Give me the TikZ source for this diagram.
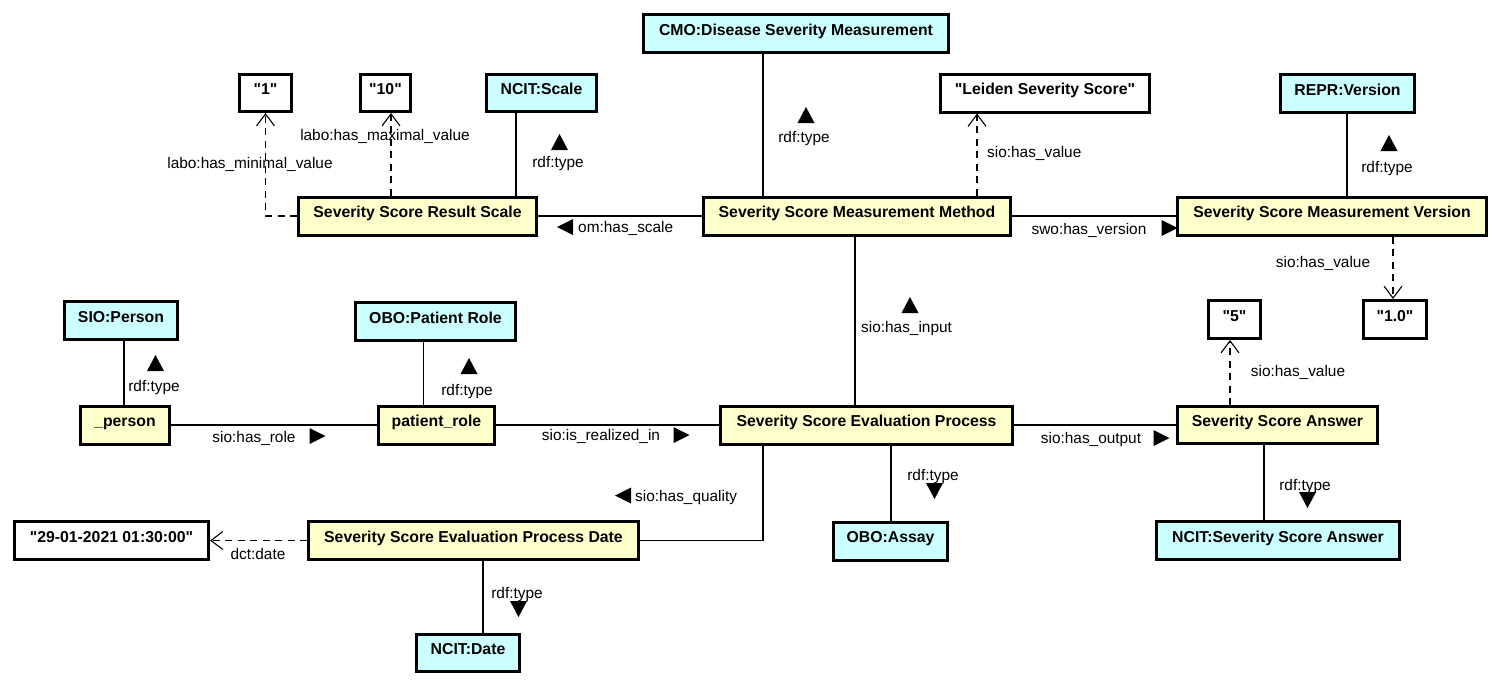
\documentclass[tikz,border=0pt]{standalone}
\usepackage{fontspec}
\setmainfont{Liberation Sans}[Ligatures=TeXOff]
\usetikzlibrary{arrows.meta}
\definecolor{clsfill}{HTML}{CCFFFF}
\definecolor{insfill}{HTML}{FFFFCC}
\newcommand\dq{\char34\relax}
\tikzset{
  box/.style={draw=black, line width=3pt, inner sep=0pt, minimum height=38pt,
    font=\fontsize{15.8}{18}\selectfont\bfseries, text height=11pt, text depth=7.5pt},
  cls/.style={box, fill=clsfill},
  ins/.style={box, fill=insfill},
  lit/.style={box, fill=white},
  lbl/.style={inner sep=0pt, font=\fontsize{15.4}{18}\selectfont, text height=11pt, text depth=3pt},
  conn/.style={draw=black, line width=1.1pt},
  valarrow/.style={conn, dash pattern=on 7pt off 5.5pt,
    -{Straight Barb[length=12pt,width=18pt,line width=1.1pt]}},
  tri up/.pic={\fill (-8.5,8) -- (8.5,8) -- (0,-8) -- cycle;},
  tri down/.pic={\fill (-8.5,-8) -- (8.5,-8) -- (0,8) -- cycle;},
  tri left/.pic={\fill (8,-8) -- (8,8) -- (-8,0) -- cycle;},
  tri right/.pic={\fill (-8,-8) -- (-8,8) -- (8,0) -- cycle;},
}
\begin{document}
\begin{tikzpicture}[x=1pt,y=-1pt]
\fill[white] (0,0) rectangle (1500,686);
\useasboundingbox (0,0) rectangle (1500,686);

% top row
\node[cls, minimum width=305pt] (cmo) at (796,33.5) {CMO:Disease Severity Measurement};
\node[lit, minimum width=52pt, minimum height=37pt] (one) at (265.5,93) {\dq1\dq};
\node[lit, minimum width=50pt, minimum height=37pt] (ten) at (385.5,93) {\dq10\dq};
\node[cls, minimum width=110pt, minimum height=37pt] (ncitscale) at (541.5,93) {NCIT:Scale};
\node[lit, minimum width=209pt] (leiden) at (1045,93) {\dq Leiden Severity Score\dq};
\node[cls, minimum width=134pt] (repr) at (1347.5,93.5) {REPR:Version};

% second row
\node[ins, minimum width=238pt] (resultscale) at (417.5,216) {Severity Score Result Scale};
\node[ins, minimum width=307pt] (method) at (857,216) {Severity Score Measurement Method};
\node[ins, minimum width=309pt] (version) at (1332,216) {Severity Score Measurement Version};

% third row
\node[cls, minimum width=113pt] (sioperson) at (121,320.5) {SIO:Person};
\node[cls, minimum width=160pt] (oborole) at (435.5,321.5) {OBO:Patient Role};
\node[lit, minimum width=52pt] (five) at (1234.5,319.5) {\dq5\dq};
\node[lit, minimum width=63pt] (onezero) at (1395,319.5) {\dq1.0\dq};

% fourth row
\node[ins, minimum width=89pt] (person) at (125,425) {\_person};
\node[ins, minimum width=116pt] (prole) at (436.5,425) {patient\_role};
\node[ins, minimum width=292pt] (evalproc) at (866.5,425) {Severity Score Evaluation Process};
\node[ins, minimum width=200pt, minimum height=37pt] (answer) at (1277.5,425) {Severity Score Answer};

% fifth row
\node[lit, minimum width=194pt] (datelit) at (111.5,540.5) {\dq29-01-2021 01:30:00\dq};
\node[ins, minimum width=330pt] (datebox) at (473.5,540.5) {Severity Score Evaluation Process Date};
\node[cls, minimum width=114pt] (assay) at (890.5,541) {OBO:Assay};
\node[cls, minimum width=243pt] (ncitanswer) at (1278,540.5) {NCIT:Severity Score Answer};

% sixth row
\node[cls, minimum width=103pt, minimum height=37pt] (ncitdate) at (468,653) {NCIT:Date};

% connectors
\draw[valarrow] (resultscale.west) -| (one.south);
\draw[valarrow] (391,0 |- resultscale.north) -- (391,0 |- ten.south);
\draw[conn] (516,0 |- ncitscale.south) -- (516,0 |- resultscale.north);
\draw[conn] (method.west) -- (resultscale.east);
\draw[conn] (763,0 |- cmo.south) -- (763,0 |- method.north);
\draw[valarrow] (977,0 |- method.north) -- (977,0 |- leiden.south);
\draw[conn] (method.east) -- (version.west);
\draw[conn] (1347,0 |- repr.south) -- (1347,0 |- version.north);
\draw[valarrow] (1393,0 |- version.south) -- (1393,0 |- onezero.north);
\draw[conn] (855,0 |- method.south) -- (855,0 |- evalproc.north);
\draw[conn] (124,0 |- sioperson.south) -- (124,0 |- person.north);
\draw[conn] (423.5,0 |- oborole.south) -- (423.5,0 |- prole.north);
\draw[conn] (person.east) -- (prole.west);
\draw[conn] (prole.east) -- (evalproc.west);
\draw[conn] (evalproc.east) -- (answer.west);
\draw[valarrow] (1230,0 |- answer.north) -- (1230,0 |- five.south);
\draw[conn] (1264,0 |- answer.south) -- (1264,0 |- ncitanswer.north);
\draw[conn] (891,0 |- evalproc.south) -- (891,0 |- assay.north);
\draw[conn] (763,0 |- evalproc.south) |- (datebox.east);
\draw[valarrow] (datebox.west) -- (datelit.east);
\draw[conn] (483,0 |- datebox.south) -- (483,0 |- ncitdate.north);

% labels
\node[lbl] (l1) at (250,164) {labo:has\_minimal\_value};
\node[lbl] (l2) at (385,136) {labo:has\_maximal\_value};
\pic at (559.5,142) {tri up};
\node[lbl] (l3) at (558,163) {rdf:type};
\pic at (565,227) {tri left};
\node[lbl, anchor=west] (l4) at (578,228) {om:has\_scale};
\pic at (806,115) {tri up};
\node[lbl] (l5) at (804,138) {rdf:type};
\node[lbl, anchor=west] (l6) at (987,153) {sio:has\_value};
\node[lbl] (l7) at (1089,230) {swo:has\_version};
\pic at (1169.5,228) {tri right};
\pic at (1389,143) {tri up};
\node[lbl] (l8) at (1387,168) {rdf:type};
\node[lbl] (l9) at (1323,263) {sio:has\_value};
\pic at (910,305) {tri up};
\node[lbl, anchor=west] (l10) at (861,328) {sio:has\_input};
\pic at (155.5,363) {tri up};
\node[lbl] (l11) at (154,387) {rdf:type};
\pic at (469,366) {tri up};
\node[lbl] (l12) at (467,391) {rdf:type};
\node[lbl] (l13) at (254,438) {sio:has\_role};
\pic at (317.5,436) {tri right};
\node[lbl] (l14) at (601,436) {sio:is\_realized\_in};
\pic at (681.5,435) {tri right};
\node[lbl] (l15) at (1091,439) {sio:has\_output};
\pic at (1161.5,438) {tri right};
\node[lbl] (l16) at (1298,372) {sio:has\_value};
\node[lbl] (l17) at (1305,486) {rdf:type};
\pic at (1307.5,500) {tri down};
\node[lbl] (l18) at (933,476) {rdf:type};
\pic at (934.5,491) {tri down};
\pic at (623,495.5) {tri left};
\node[lbl, anchor=west] (l19) at (635,497) {sio:has\_quality};
\node[lbl] (l20) at (258,555) {dct:date};
\node[lbl] (l21) at (517,594) {rdf:type};
\pic at (518.5,609) {tri down};
\end{tikzpicture}
\end{document}
